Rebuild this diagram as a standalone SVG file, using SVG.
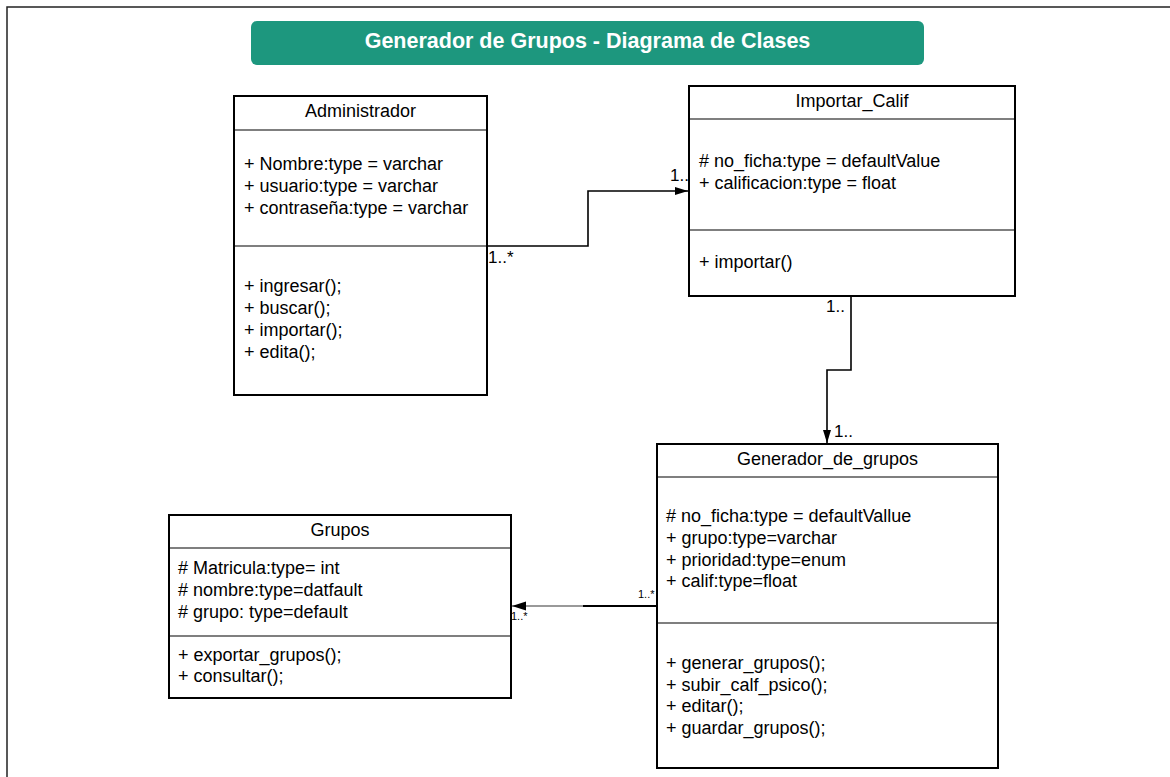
<svg xmlns="http://www.w3.org/2000/svg" width="1170" height="777" viewBox="0 0 1170 777">
<defs>
<style>
.box{fill:#fff;stroke:#000;stroke-width:2}
.sep{stroke:#000;stroke-width:1.2}
.t{font-family:"Liberation Sans",Arial,sans-serif;font-size:18px;fill:#000}
.c{text-anchor:middle}
.lbl{font-family:"Liberation Sans",Arial,sans-serif;font-size:17px;fill:#000}
.sm{font-family:"Liberation Sans",Arial,sans-serif;font-size:11px;fill:#000}
.edge{fill:none;stroke:#000;stroke-width:1.6}
</style>
<marker id="arr" viewBox="0 0 13 9" refX="13" refY="4.5" markerWidth="13" markerHeight="9" markerUnits="userSpaceOnUse" orient="auto">
<path d="M0,0.5 L13,4.5 L0,8.5 Z" fill="#000"/>
</marker>
<marker id="arrL" viewBox="0 0 14 10" refX="14" refY="5" markerWidth="14" markerHeight="10" markerUnits="userSpaceOnUse" orient="auto">
<path d="M0,0.5 L14,5 L0,9.5 Z" fill="#000"/>
</marker>
</defs>
<rect width="1170" height="777" fill="#fff"/>
<path d="M7,777 L7,7 L1170,7" fill="none" stroke="#222" stroke-width="1.5"/>
<g id="title">
<rect x="251" y="21" width="673" height="44" rx="6" fill="#1d977e"/>
<text x="587.5" y="48" text-anchor="middle" font-family="'Liberation Sans',Arial,sans-serif" font-size="21.5" font-weight="bold" fill="#fff">Generador de Grupos - Diagrama de Clases</text>
</g>
<g id="connectors">
<polyline class="edge" points="480,246 588,246 588,191 688,191" marker-end="url(#arr)"/>
<polyline class="edge" points="851,296 851,370 827,370 827,443" marker-end="url(#arr)"/>
<line x1="657" y1="606" x2="583" y2="606" stroke="#000" stroke-width="1.8"/>
<line x1="583" y1="606" x2="512" y2="606" stroke="#777" stroke-width="1.5" marker-end="url(#arrL)"/>
<text class="lbl" x="488" y="263">1..*</text>
<text class="lbl" x="670" y="181">1..</text>
<text class="lbl" x="826" y="312">1..</text>
<text class="lbl" x="834" y="437">1..</text>
<text class="sm" x="638" y="598">1..*</text>
<text class="sm" x="511" y="620">1..*</text>
</g>
<g id="administrador">
<rect class="box" x="234" y="96" width="253" height="299"/>
<line class="sep" x1="234" y1="130" x2="487" y2="130"/>
<line class="sep" x1="234" y1="246" x2="487" y2="246"/>
<text class="t c" x="360.5" y="117">Administrador</text>
<text class="t" x="244" y="170">+ Nombre:type = varchar</text>
<text class="t" x="244" y="192">+ usuario:type = varchar</text>
<text class="t" x="244" y="214">+ contraseña:type = varchar</text>
<text class="t" x="244" y="292">+ ingresar();</text>
<text class="t" x="244" y="314">+ buscar();</text>
<text class="t" x="244" y="336">+ importar();</text>
<text class="t" x="244" y="358">+ edita();</text>
</g>
<g id="importar_calif">
<rect class="box" x="689" y="86" width="326" height="210"/>
<line class="sep" x1="689" y1="119" x2="1015" y2="119"/>
<line class="sep" x1="689" y1="230" x2="1015" y2="230"/>
<text class="t c" x="852" y="107">Importar_Calif</text>
<text class="t" x="699" y="167"># no_ficha:type = defaultValue</text>
<text class="t" x="699" y="189">+ calificacion:type = float</text>
<text class="t" x="699" y="268">+ importar()</text>
</g>
<g id="generador_de_grupos">
<rect class="box" x="657" y="444" width="341" height="324"/>
<line class="sep" x1="657" y1="477" x2="998" y2="477"/>
<line class="sep" x1="657" y1="623" x2="998" y2="623"/>
<text class="t c" x="827.5" y="465">Generador_de_grupos</text>
<text class="t" x="666" y="522"># no_ficha:type = defaultVallue</text>
<text class="t" x="666" y="544">+ grupo:type=varchar</text>
<text class="t" x="666" y="566">+ prioridad:type=enum</text>
<text class="t" x="666" y="587">+ calif:type=float</text>
<text class="t" x="666" y="669">+ generar_grupos();</text>
<text class="t" x="666" y="691">+ subir_calf_psico();</text>
<text class="t" x="666" y="712">+ editar();</text>
<text class="t" x="666" y="734">+ guardar_grupos();</text>
</g>
<g id="grupos">
<rect class="box" x="169" y="515" width="342" height="183"/>
<line class="sep" x1="169" y1="548" x2="511" y2="548"/>
<line class="sep" x1="169" y1="636" x2="511" y2="636"/>
<text class="t c" x="340" y="536">Grupos</text>
<text class="t" x="178" y="574"># Matricula:type= int</text>
<text class="t" x="178" y="596"># nombre:type=datfault</text>
<text class="t" x="178" y="618"># grupo: type=default</text>
<text class="t" x="178" y="661">+ exportar_grupos();</text>
<text class="t" x="178" y="682">+ consultar();</text>
</g>
</svg>
